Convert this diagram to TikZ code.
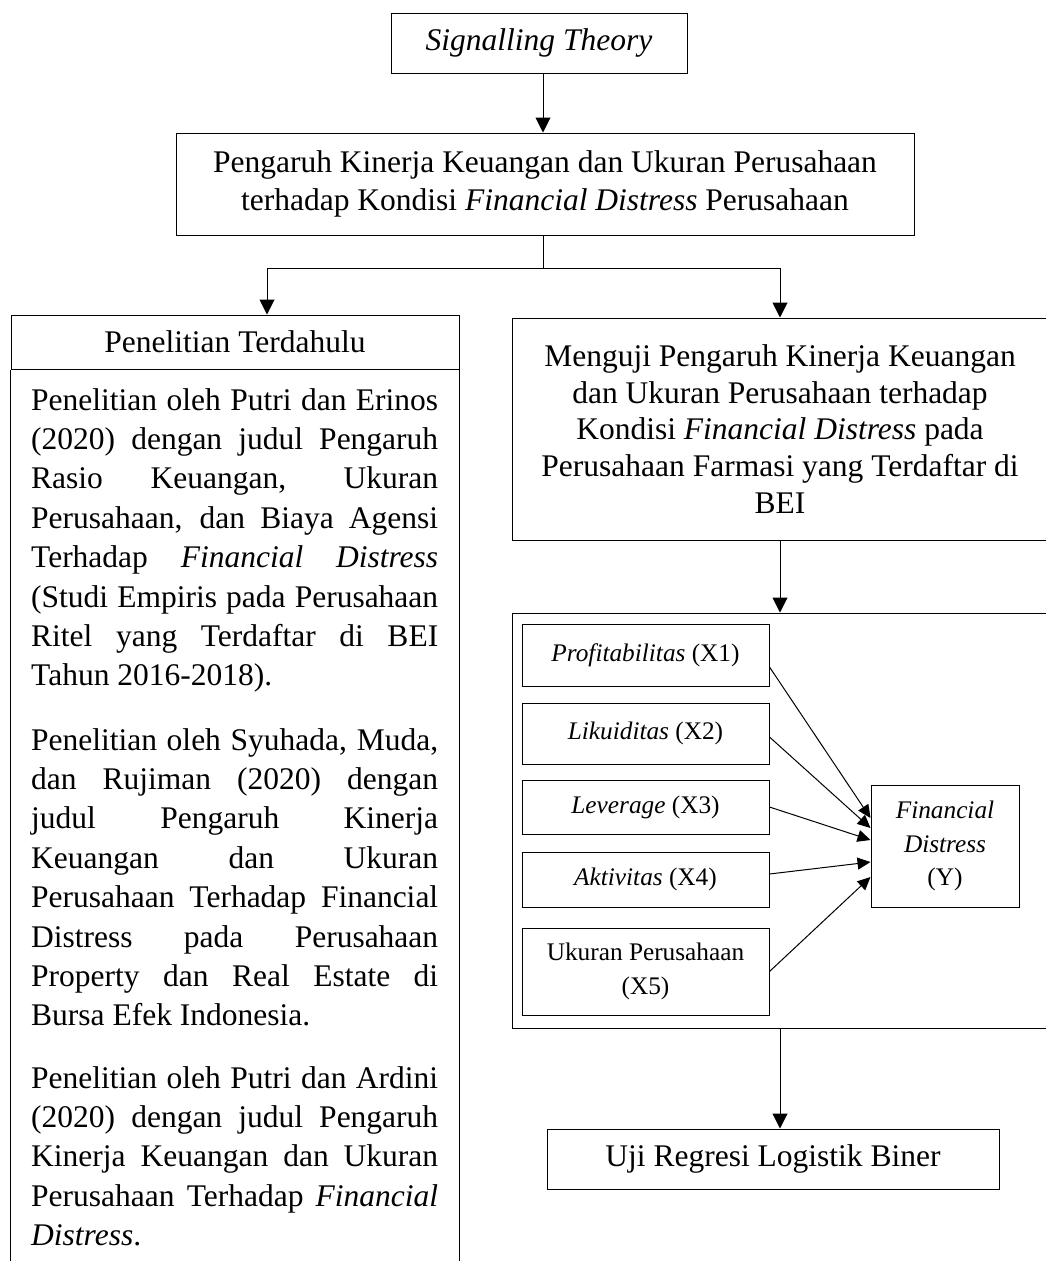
\documentclass[tikz,border=0pt]{standalone}
\usepackage{fontspec}
\setmainfont{Liberation Serif}
\usetikzlibrary{arrows.meta,calc}
\begin{document}
\begin{tikzpicture}[x=1pt,y=-1pt,
  bx/.style={draw, line width=1pt, inner sep=0pt, align=center},
  big/.style={font=\fontsize{31.5}{38}\selectfont},
  small/.style={font=\fontsize{25.3}{33.5}\selectfont},
  arr/.style={line width=1pt, -{Triangle[length=15pt,width=15pt]}},
  sarr/.style={line width=1pt, -{Triangle[length=13pt,width=12pt]}},
  para/.style={anchor=base west, text width=407pt, align=justify, inner sep=0pt, font=\fontsize{31.5}{39.4}\selectfont}
]
\useasboundingbox (0,0) rectangle (1046,1261);
\clip (0,0) rectangle (1046,1261);

% top
\node[bx,big,minimum width=296pt,minimum height=60pt] (sig) at (539,43) {\textit{Signalling Theory}};
\node[bx,big,minimum width=738pt,minimum height=102pt] (peng) at (545,184)
  {Pengaruh Kinerja Keuangan dan Ukuran Perusahaan\\terhadap Kondisi \textit{Financial Distress} Perusahaan};
\draw[arr] ([xshift=4pt]sig.south) -- ([xshift=-2pt]peng.north);
\coordinate (split) at (543,268);
\draw[line width=1pt] (split |- peng.south) -- (split);

% left column
\node[bx,big,minimum width=448pt,minimum height=54pt] (head) at (235,342) {Penelitian Terdahulu};
\draw[arr] (split) -| ([xshift=32pt]head.north);
\draw[line width=1pt] (head.south west) -- ++(0,960);
\draw[line width=1pt] (head.south east) -- ++(0,960);

\node[para] (p1) at (31,410) {Penelitian oleh Putri dan Erinos\linebreak
(2020) dengan judul Pengaruh\linebreak
Rasio Keuangan, Ukuran\linebreak
Perusahaan, dan Biaya Agensi\linebreak
Terhadap \textit{Financial Distress}\linebreak
(Studi Empiris pada Perusahaan\linebreak
Ritel yang Terdaftar di BEI\linebreak
Tahun 2016-2018).};

\node[para] (p2) at (31,750) {Penelitian oleh Syuhada, Muda,\linebreak
dan Rujiman (2020) dengan\linebreak
judul Pengaruh Kinerja\linebreak
Keuangan dan Ukuran\linebreak
Perusahaan Terhadap Financial\linebreak
Distress pada Perusahaan\linebreak
Property dan Real Estate di\linebreak
Bursa Efek Indonesia.};

\node[para] (p3) at (31,1088) {Penelitian oleh Putri dan Ardini\linebreak
(2020) dengan judul Pengaruh\linebreak
Kinerja Keuangan dan Ukuran\linebreak
Perusahaan Terhadap \textit{Financial}\linebreak
\textit{Distress}.};

% right column
\node[bx,minimum width=536pt,minimum height=222pt,font=\fontsize{31.5}{36.8}\selectfont] (meng) at (780,429)
  {Menguji Pengaruh Kinerja Keuangan\\dan Ukuran Perusahaan terhadap\\Kondisi \textit{Financial Distress} pada\\Perusahaan Farmasi yang Terdaftar di\\BEI};
\draw[arr] (split) -| (meng.north);

\node[draw,line width=1pt,minimum width=536pt,minimum height=415pt,inner sep=0pt] (inner) at (780,820.5) {};
\draw[arr] (meng.south) -- (inner.north);

\node[bx,small,minimum width=247pt,minimum height=62pt] (x1) at (645.5,655) {\textit{Profitabilitas} (X1)};
\node[bx,small,minimum width=247pt,minimum height=61pt] (x2) at (645.5,733.5) {\textit{Likuiditas} (X2)};
\node[bx,small,minimum width=247pt,minimum height=54pt] (x3) at (645.5,807) {\textit{Leverage} (X3)};
\node[bx,small,minimum width=247pt,minimum height=55pt] (x4) at (645.5,879.5) {\textit{Aktivitas} (X4)};
\node[bx,small,minimum width=247pt,minimum height=87pt] (x5) at (645.5,971.5) {Ukuran Perusahaan\\(X5)};
\node[bx,small,minimum width=148pt,minimum height=122pt] (y) at (945,846) {\textit{Financial}\\\textit{Distress}\\(Y)};

\draw[sarr] ([yshift=-12pt]x1.east) -- ([yshift=28pt]y.west);
\draw[sarr] ([yshift=-3.5pt]x2.east) -- ([yshift=18pt]y.west);
\draw[sarr] (x3.east) -- ([yshift=6pt]y.west);
\draw[sarr] ([yshift=5.5pt]x4.east) -- ([yshift=-16pt]y.west);
\draw[sarr] (x5.east) -- ([yshift=-31pt]y.west);

\node[bx,big,minimum width=452pt,minimum height=60pt] (uji) at (773,1159) {Uji Regresi Logistik Biner};
\draw[arr] (inner.south) -- (inner.south |- uji.north);
\end{tikzpicture}
\end{document}
